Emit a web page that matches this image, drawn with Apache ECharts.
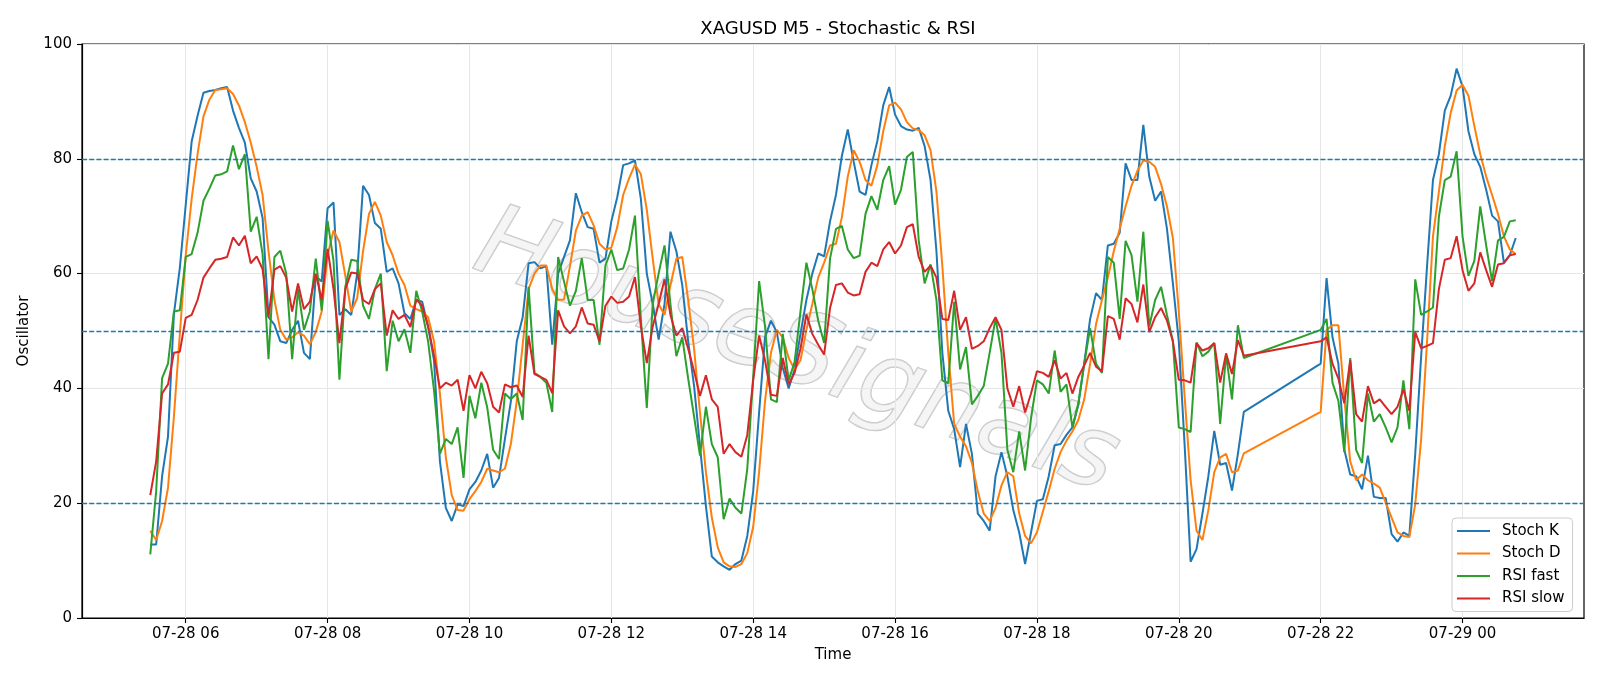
<!DOCTYPE html>
<html>
<head>
<meta charset="utf-8">
<title>XAGUSD M5 - Stochastic & RSI</title>
<script src="https://cdn.jsdelivr.net/npm/echarts@6/dist/echarts.min.js"></script>
<style>
html, body { margin: 0; padding: 0; background: #fff; }
#chart { width: 1600px; height: 686px; }
</style>
</head>
<body>
<div id="chart"></div>
<script>
// 5 minute bars, no data between 20:55 and 22:00
var segmentStarts = ['07-28 05:30', '07-28 22:00'];
var segmentLengths = [186, 34];
var xTickLabels = ['07-28 06', '07-28 08', '07-28 10', '07-28 12', '07-28 14',
                   '07-28 16', '07-28 18', '07-28 20', '07-28 22', '07-29 00'];
var levels = [20, 50, 80];

var stochK = [
  12.8,12.8,24.7,31.6,53.0,61.0,72.0,83.0,87.5,91.5,91.8,92.0,92.3,92.5,88.4,85.4,82.8,76.6,74.3,69.7,52.4,51.1,48.2,47.9,50.2,51.8,46.2,45.1,59.6,58.6,71.4,72.4,52.8,53.8,52.8,60.0,75.3,73.7,
  68.8,67.8,60.3,60.9,58.3,53.1,52.1,55.4,55.1,50.8,44.9,27.3,19.2,16.9,19.8,19.5,22.4,23.7,25.7,28.6,22.7,24.4,31.2,37.7,48.2,52.4,61.8,62.0,60.9,61.3,47.6,60.0,62.9,65.8,74.0,70.7,68.1,67.8,61.9,
  62.6,69.1,73.3,78.9,79.2,79.7,73.0,60.0,54.7,48.5,54.7,67.3,63.9,58.0,48.2,40.4,29.9,19.5,10.7,9.7,9.0,8.4,9.4,10.0,14.3,22.1,35.8,48.9,51.8,49.8,43.6,40.0,43.3,49.5,55.4,60.0,63.5,63.0,69.1,
  73.7,80.5,85.1,79.5,74.3,73.7,78.9,83.1,89.3,92.5,87.7,85.7,85.1,84.9,85.4,82.2,76.3,63.9,46.2,36.1,32.9,26.3,33.8,28.6,18.2,16.9,15.2,24.7,28.9,24.7,18.8,14.9,9.4,14.9,20.4,20.7,24.7,30.1,30.3,
  31.9,33.2,37.1,44.3,52.1,56.6,55.4,64.9,65.2,67.1,79.2,76.3,76.3,85.9,76.9,72.7,74.3,67.8,58.3,48.2,29.9,9.8,12.0,18.2,24.7,32.6,26.7,27.0,22.2,28.6,35.9,
  44.3,59.2,48.9,44.3,29.3,25.0,24.7,22.4,28.3,21.1,20.9,20.9,14.6,13.3,14.9,14.3,28.6,45.6,61.3,76.3,80.8,88.4,91.0,95.7,92.6,84.8,80.8,78.6,74.6,70.1,69.1,61.9,63.2,66.2
];
var stochD = [
  15.2,13.6,16.9,22.7,35.1,49.5,63.2,73.0,80.8,87.4,90.3,92.0,92.1,92.3,91.3,89.3,86.4,82.8,78.6,73.7,63.9,55.4,50.2,48.5,48.9,49.8,49.2,47.7,49.8,53.4,63.2,67.5,65.5,59.6,53.4,55.7,63.9,70.4,
  72.5,70.1,65.5,63.2,60.0,58.0,54.4,53.8,53.4,52.4,48.2,39.1,28.0,21.4,18.8,18.7,20.7,22.1,23.7,26.0,25.7,25.4,26.0,30.3,37.8,47.6,57.3,60.0,61.4,61.4,57.3,55.4,55.5,61.3,67.5,70.1,70.7,68.4,65.2,
  64.2,64.5,68.1,73.7,76.6,79.0,77.3,71.1,62.6,54.7,52.8,58.0,62.6,62.9,55.4,46.9,35.8,25.4,17.5,12.3,9.7,9.0,8.9,9.4,11.3,15.9,25.4,37.8,46.2,50.2,48.9,45.3,43.3,44.9,50.2,54.7,59.3,61.9,64.9,
  65.2,69.8,76.9,81.5,79.5,76.3,75.3,78.9,84.8,89.3,89.8,88.6,86.4,85.3,85.0,84.1,81.5,74.3,61.3,46.2,33.8,31.6,29.9,27.0,22.1,18.2,16.9,19.2,23.1,25.4,24.7,18.2,14.3,13.0,14.9,18.5,22.1,26.0,28.9,
  30.9,32.5,34.5,38.1,44.3,51.2,55.4,59.3,63.9,67.8,71.7,75.3,77.9,79.7,79.5,78.6,75.6,71.7,66.2,53.4,38.4,24.0,15.2,13.6,18.8,25.4,28.0,28.6,25.4,25.7,28.7,
  35.9,50.2,51.0,51.0,38.4,27.3,24.0,25.0,24.0,23.4,22.7,20.1,17.5,14.9,14.3,14.1,19.8,31.2,48.2,66.5,74.3,82.2,88.0,91.9,92.9,91.0,85.7,80.8,76.9,73.7,70.4,66.5,64.2,63.4
];
var rsiFast = [
  11.1,22.1,41.8,44.3,53.4,53.6,62.9,63.4,67.1,72.7,74.8,77.1,77.3,77.8,82.3,78.2,80.8,67.3,69.9,63.4,45.1,62.9,64.0,60.0,45.1,57.3,50.2,53.4,62.6,53.6,69.2,62.2,41.5,57.7,62.4,62.2,54.4,52.1,
  57.3,60.0,43.0,51.8,48.2,50.3,46.2,57.0,53.4,48.2,39.7,28.6,31.2,30.3,33.2,24.4,38.7,34.8,41.0,36.7,29.3,27.7,39.1,38.1,39.1,34.5,57.7,42.7,42.0,41.0,35.9,62.9,58.6,54.4,57.0,62.7,55.4,55.4,47.6,
  61.4,64.2,60.6,60.9,64.2,70.1,52.1,36.6,54.7,60.0,64.9,54.7,45.6,48.9,41.7,35.1,28.3,36.8,30.3,28.0,17.2,20.8,19.2,18.2,26.0,42.0,58.7,50.8,38.1,37.6,49.5,41.4,44.6,53.4,61.9,57.3,51.8,47.9,62.6,
  67.8,68.3,64.2,62.7,63.1,70.4,73.5,71.1,76.3,78.7,72.0,74.6,80.3,81.2,65.8,58.3,61.6,55.4,41.4,40.9,55.1,43.3,47.2,37.2,38.7,40.4,46.2,52.2,46.2,29.3,25.4,32.5,25.7,34.8,41.4,40.7,39.1,46.6,39.4,
  40.7,33.2,37.4,44.3,50.5,44.3,42.7,62.9,61.9,52.1,65.7,63.2,55.1,67.3,50.8,55.4,57.7,52.8,48.2,33.2,32.9,32.4,48.0,45.6,46.4,47.9,33.8,45.9,38.1,51.0,45.3,
  50.2,52.1,41.0,37.8,28.9,45.3,29.3,27.0,39.1,34.2,35.5,33.2,30.6,33.2,41.4,32.9,59.0,52.8,53.4,54.1,69.9,76.3,76.9,81.3,66.5,59.6,62.2,71.7,64.9,58.7,65.8,66.4,69.1,69.3
];
var rsiSlow = [
  21.4,27.3,39.1,40.7,46.2,46.4,52.3,52.8,55.4,59.3,60.9,62.4,62.6,62.9,66.3,64.9,66.6,61.8,63.0,60.8,52.4,60.7,61.3,59.3,53.4,58.3,53.8,55.1,60.0,55.4,64.3,57.3,47.9,57.3,60.2,60.0,55.4,54.7,
  57.3,58.3,49.2,53.6,52.1,52.8,50.7,55.5,54.4,50.8,45.7,40.0,41.0,40.5,41.5,36.1,42.3,40.0,42.9,40.9,36.8,35.8,40.7,40.2,40.5,38.5,49.2,42.5,42.0,41.5,39.2,53.6,50.8,49.6,50.8,54.1,51.3,51.1,48.2,
  54.4,56.0,54.9,55.1,56.0,59.4,50.8,44.4,50.8,54.7,59.0,52.8,49.2,50.5,46.9,43.0,38.7,42.3,38.1,36.8,28.6,30.3,28.9,28.1,31.9,41.4,49.2,44.9,38.9,38.7,45.3,40.7,42.7,46.9,52.9,49.5,47.6,45.9,54.0,
  58.0,58.3,56.7,56.2,56.4,60.3,61.9,61.3,64.2,65.5,63.5,64.9,68.1,68.6,62.9,60.3,61.4,59.3,52.1,51.9,57.0,50.2,52.4,46.9,47.4,48.2,50.5,52.4,50.2,40.0,36.8,40.4,35.8,39.1,43.0,42.7,42.0,44.9,41.7,
  42.7,39.1,42.0,44.0,46.2,43.8,43.0,52.6,52.1,48.5,55.7,54.7,51.5,58.1,49.8,52.4,54.0,51.8,48.2,41.5,41.4,41.0,47.9,46.6,47.0,47.9,41.0,46.1,42.5,48.4,45.7,
  48.2,48.9,44.3,41.7,37.4,44.9,35.5,34.2,40.4,37.4,38.1,36.8,35.5,36.8,39.8,36.1,49.8,47.0,47.4,47.9,57.3,62.4,62.7,66.5,60.6,57.0,58.3,63.7,60.6,57.7,61.6,61.8,63.2,63.4
];

// 'MM-DD HH[:MM]' -> hours from 07-28 00:00
function toHours(s) {
    var day = parseInt(s.slice(3, 5), 10) - 28;
    var hh = parseInt(s.slice(6, 8), 10);
    var mm = s.length > 8 ? parseInt(s.slice(9, 11), 10) : 0;
    return day * 24 + hh + mm / 60;
}

var times = [];
segmentStarts.forEach(function(s, k) {
    var t0 = toHours(s);
    for (var i = 0; i < segmentLengths[k]; i++) times.push(t0 + i * 5 / 60);
});
function pairs(vals) {
    return vals.map(function(v, i) { return [times[i], v]; });
}

var xTickValues = xTickLabels.map(toHours);
var tMin = times[0], tMax = times[times.length - 1];
var pad = (tMax - tMin) * 0.05;

var font = 'DejaVu Sans';

function lineSeries(name, vals, color) {
    return {
        name: name, type: 'line', data: pairs(vals), showSymbol: false,
        itemStyle: { color: color },
        lineStyle: { color: color, width: 2 }
    };
}

var myChart = echarts.init(document.getElementById('chart'));
var option = {
    animation: false,
    backgroundColor: '#fff',
    title: {
        text: 'XAGUSD M5 - Stochastic & RSI',
        left: 833, top: 15, textAlign: 'center',
        textStyle: { fontFamily: font, fontSize: 18, fontWeight: 'normal', color: '#000' }
    },
    grid: {
        left: 82, right: 16, top: 44, bottom: 68,
        show: true, borderColor: '#000', borderWidth: 1.2, backgroundColor: 'transparent'
    },
    legend: {
        data: ['Stoch K', 'Stoch D', 'RSI fast', 'RSI slow'],
        orient: 'vertical',
        left: 1452, top: 518,
        icon: 'rect', itemWidth: 33, itemHeight: 2.2, itemGap: 6.5,
        padding: [5, 8, 5, 5],
        backgroundColor: 'rgba(255,255,255,0.8)',
        borderColor: '#cccccc', borderWidth: 1, borderRadius: 4,
        textStyle: { fontFamily: font, fontSize: 15, color: '#000', padding: [0, 0, 0, 7], lineHeight: 16 }
    },
    graphic: [{
        type: 'text',
        x: 796, y: 355, rotation: -0.34, z: -10,
        style: {
            text: 'HouseSignals',
            align: 'center', verticalAlign: 'middle',
            fontFamily: font, fontSize: 100, fontStyle: 'italic', fontWeight: 200,
            fill: 'rgba(235,235,235,0.5)',
            stroke: 'rgba(150,150,150,0.55)', lineWidth: 1.5,
            shadowColor: 'rgba(0,0,0,0.25)', shadowBlur: 2, shadowOffsetX: 3, shadowOffsetY: 3
        }
    }],
    xAxis: {
        type: 'value',
        min: tMin - pad, max: tMax + pad,
        name: 'Time', nameLocation: 'middle', nameGap: 30,
        nameTextStyle: { fontFamily: font, fontSize: 15, color: '#000' },
        axisLine: { lineStyle: { color: '#000', width: 1.2 } },
        axisTick: { customValues: xTickValues, length: 5, lineStyle: { color: '#000', width: 1.1 } },
        axisLabel: {
            customValues: xTickValues, margin: 9,
            fontFamily: font, fontSize: 15, color: '#000',
            formatter: function(v) {
                var i = xTickValues.indexOf(v);
                return i >= 0 ? xTickLabels[i] : '';
            }
        },
        splitLine: { show: true, customValues: xTickValues, lineStyle: { color: '#e6e6e6', width: 1 } }
    },
    yAxis: {
        type: 'value',
        min: 0, max: 100, interval: 20,
        name: 'Oscillator', nameLocation: 'middle', nameGap: 50,
        nameTextStyle: { fontFamily: font, fontSize: 15, color: '#000' },
        axisLine: { show: true, lineStyle: { color: '#000', width: 1.2 } },
        axisTick: { show: true, length: 5, lineStyle: { color: '#000', width: 1.1 } },
        axisLabel: { margin: 10, fontFamily: font, fontSize: 15, color: '#000' },
        splitLine: { show: true, lineStyle: { color: '#e6e6e6', width: 1 } }
    },
    series: [
        {
            name: 'levels', type: 'line', data: [], silent: true,
            markLine: {
                silent: true, symbol: 'none', label: { show: false },
                lineStyle: { color: '#1f77b4', type: [5, 2.2], width: 1.3 },
                data: levels.map(function(v) { return { yAxis: v }; })
            }
        },
        lineSeries('Stoch K', stochK, '#1f77b4'),
        lineSeries('Stoch D', stochD, '#ff7f0e'),
        lineSeries('RSI fast', rsiFast, '#2ca02c'),
        lineSeries('RSI slow', rsiSlow, '#d62728')
    ]
};
myChart.setOption(option);
</script>
</body>
</html>
